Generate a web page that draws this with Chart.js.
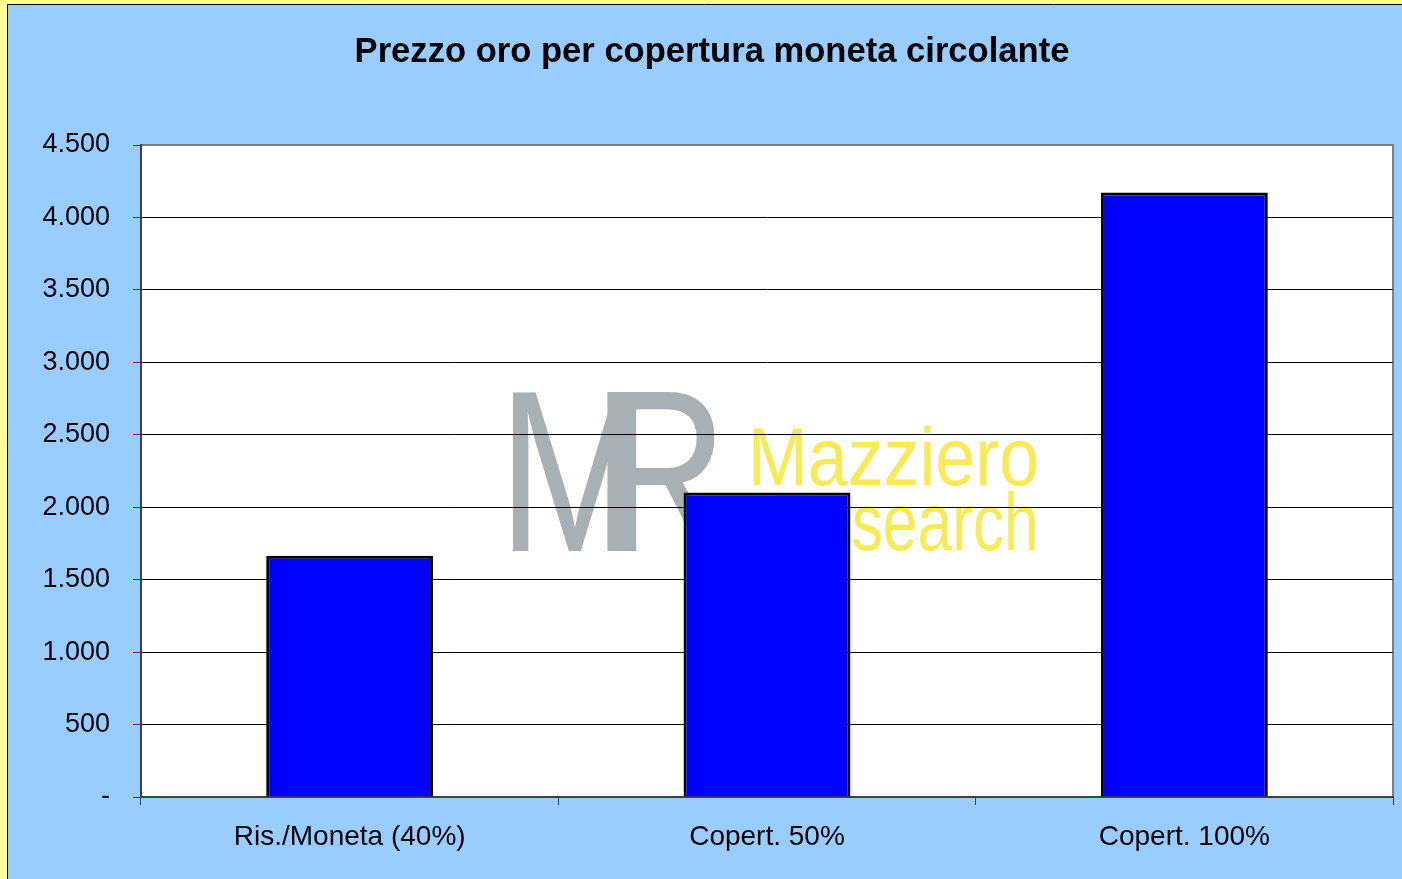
<!DOCTYPE html>
<html>
<head>
<meta charset="utf-8">
<script src="https://cdn.jsdelivr.net/npm/chart.js@4.4.1/dist/chart.umd.min.js"></script>
<style>
  html, body { margin: 0; padding: 0; background: #99CCFF; }
  #box { position: relative; width: 1402px; height: 879px; }
</style>
</head>
<body>
<div id="box"><canvas id="grafico"></canvas></div>
<script>
/* Prezzo oro per copertura moneta circolante */

const titolo = "Prezzo oro per copertura moneta circolante";
const categorie = ["Ris./Moneta (40%)", "Copert. 50%", "Copert. 100%"];
const prezzi = [1665, 2102, 4172];
const asseMin = 0;
const asseMax = 4500;
const passo = 500;

const FONT = "'Liberation Sans', Arial, sans-serif";

function fmtIt(n) {
  if (n === 0) return "-";
  return String(n).replace(/\B(?=(\d{3})+(?!\d))/g, ".");
}

// sfondo, cornice, titolo, area bianca e filigrana (prima della griglia)
const sfondo = {
  id: "sfondo",
  beforeDraw(chart) {
    const { ctx, width, height, chartArea: a } = chart;
    ctx.save();
    ctx.fillStyle = "#FFFF99";
    ctx.fillRect(0, 0, width, height);
    ctx.fillStyle = "#99CCFF";
    ctx.fillRect(8, 5, width - 8, height - 5);
    ctx.strokeStyle = "#000000";
    ctx.lineWidth = 1;
    ctx.beginPath();
    ctx.moveTo(7.5, height);
    ctx.lineTo(7.5, 4.5);
    ctx.lineTo(width, 4.5);
    ctx.stroke();

    // titolo
    ctx.fillStyle = "#000000";
    ctx.font = "bold 34.6px " + FONT;
    ctx.textAlign = "center";
    ctx.textBaseline = "alphabetic";
    ctx.fillText(titolo, 712, 62);

    ctx.fillStyle = "#FFFFFF";
    ctx.fillRect(a.left, a.top, a.right - a.left, a.bottom - a.top);

    // filigrana
    ctx.textAlign = "left";
    ctx.fillStyle = "#A9B0B4";
    ctx.font = "230px " + FONT;
    ctx.save();
    ctx.translate(498, 551);
    ctx.scale(0.8, 1);
    ctx.fillText("M", 0, 0);
    ctx.restore();
    ctx.save();
    ctx.translate(592, 551);
    ctx.scale(0.82, 1);
    ctx.fillText("R", 0, 0);
    ctx.restore();

    ctx.fillStyle = "#F8EA55";
    ctx.font = "82px " + FONT;
    ctx.save();
    ctx.translate(748, 485);
    ctx.scale(0.875, 1);
    ctx.fillText("Mazziero", 0, 0);
    ctx.restore();
    ctx.save();
    ctx.translate(772, 550);
    ctx.scale(0.76, 1);
    ctx.fillText("Research", 0, 0);
    ctx.restore();

    // bordo grigio dell'area
    ctx.strokeStyle = "#808080";
    ctx.lineWidth = 2;
    ctx.strokeRect(a.left, a.top, a.right - a.left, a.bottom - a.top);
    ctx.restore();
  }
};

new Chart(document.getElementById("grafico"), {
  type: "bar",
  data: {
    labels: categorie,
    datasets: [{
      data: prezzi,
      backgroundColor: "#0000FF",
      borderColor: "#000000",
      borderWidth: 3,
      barPercentage: 0.4,
      categoryPercentage: 1,
    }],
  },
  options: {
    responsive: true, maintainAspectRatio: false, animation: false,
    layout: { padding: { left: 0, right: 9, top: 145, bottom: 0 } },
    plugins: {
      legend: { display: false },
      tooltip: { enabled: false },
      title: { display: false },
    },
    scales: {
      x: {
        afterFit(s) { s.height = 82; },
        grid: { display: true, drawOnChartArea: false, offset: true, tickLength: 8, tickColor: "#404040", tickWidth: 1 },
        border: { display: true, color: "#404040", width: 2 },
        ticks: {
          color: "#000000", padding: 15,
          font: { family: FONT, size: 28 },
        },
      },
      y: {
        min: asseMin, max: asseMax,
        afterFit(s) { s.width = 141; },
        grid: {
          color: ctx => (ctx.tick && ctx.tick.value === asseMax ? "rgba(0,0,0,0)" : "#000000"),
          lineWidth: 1, tickLength: 8, tickColor: "#404040",
        },
        border: { display: true, color: "#404040", width: 2 },
        ticks: {
          stepSize: passo, color: "#000000", padding: 23,
          font: { family: FONT, size: 27 },
          callback: v => fmtIt(v),
        },
      },
    },
  },
  plugins: [sfondo],
});
</script>
</body>
</html>
